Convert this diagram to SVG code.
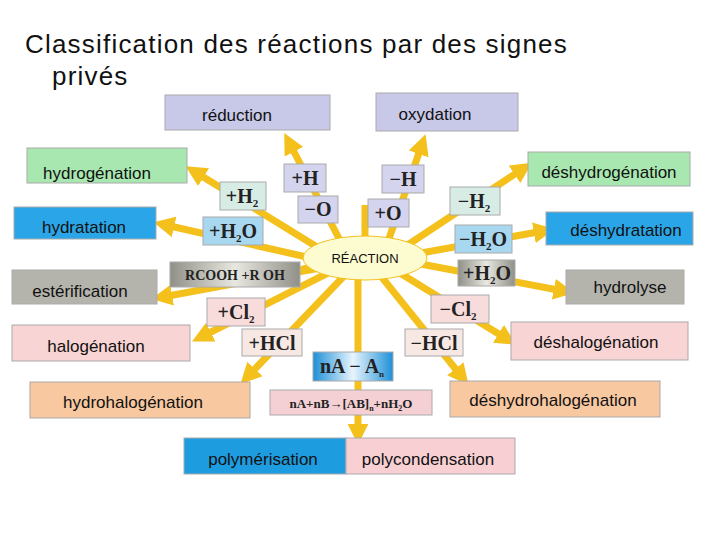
<svg xmlns="http://www.w3.org/2000/svg" width="720" height="540" viewBox="0 0 720 540">
<defs>
<marker id="ah" viewBox="0 0 10 10" refX="2" refY="5" markerWidth="3" markerHeight="3" orient="auto"><path d="M0,0 L10,5 L0,10 z" fill="#f4c01c"/></marker>
<linearGradient id="gr" x1="0" x2="1"><stop offset="0" stop-color="#909088"/><stop offset="0.5" stop-color="#e8e8e0"/><stop offset="1" stop-color="#909088"/></linearGradient>
<linearGradient id="bl" x1="0" x2="1"><stop offset="0" stop-color="#1e90d8"/><stop offset="0.5" stop-color="#e8f4fc"/><stop offset="1" stop-color="#1e90d8"/></linearGradient>
<style>
.t{font-family:"Liberation Sans",Arial,sans-serif;font-size:17px;fill:#111;text-anchor:middle}
.f{font-family:"Liberation Serif","Times New Roman",serif;font-weight:bold;font-size:20px;fill:#222;text-anchor:middle}
.b{stroke:#aaa;stroke-width:1}
.c{stroke:#f4c01c;stroke-width:7;fill:none;marker-end:url(#ah)}
.r{stroke:#f4c01c;stroke-width:7;fill:none}
</style>
</defs>
<rect width="720" height="540" fill="#fff"/>
<text x="25" y="53" font-family="Liberation Sans,Arial,sans-serif" font-size="26" letter-spacing="1.2" fill="#111">Classification des réactions par des signes</text>
<text x="52" y="85" font-family="Liberation Sans,Arial,sans-serif" font-size="26" letter-spacing="1.2" fill="#111">privés</text>
<g id="connectors">
<path class="c" d="M345,250 L292,148"/>
<path class="c" d="M385,250 L420,150"/>
<path class="c" d="M330,255 L200,175"/>
<path class="c" d="M320,260 L170,226"/>
<path class="c" d="M320,268 L168,296"/>
<path class="c" d="M330,272 L207,334"/>
<path class="c" d="M345,275 L252,372"/>
<path class="c" d="M358,278 L358,428"/>
<path class="c" d="M380,275 L458,372"/>
<path class="c" d="M395,270 L502,336"/>
<path class="c" d="M410,262 L558,290"/>
<path class="c" d="M410,255 L538,232"/>
<path class="c" d="M400,250 L518,172"/>
<path class="r" d="M365,240 L365,205"/>
<path class="r" d="M330,262 L300,270"/>
</g>
<g id="reduction"><rect class="b" x="165" y="95" width="165" height="35" fill="#c8c8e8"/><text class="t" x="237" y="121">réduction</text></g>
<g id="oxydation"><rect class="b" x="376" y="93" width="142" height="38" fill="#c8c8e8"/><text class="t" x="435" y="120">oxydation</text></g>
<g id="hydrogenation"><rect class="b" x="27" y="148" width="160" height="35" fill="#a8e8b0"/><text class="t" x="97" y="179">hydrogénation</text></g>
<g id="deshydrogenation"><rect class="b" x="528" y="152" width="162" height="34" fill="#a8e8b0"/><text class="t" x="609" y="178">déshydrogénation</text></g>
<g id="hydratation"><rect class="b" x="14" y="207" width="142" height="32" fill="#2aa6e8"/><text class="t" x="84" y="233">hydratation</text></g>
<g id="deshydratation"><rect class="b" x="546" y="212" width="147" height="33" fill="#2aa6e8"/><text class="t" x="626" y="236">déshydratation</text></g>
<g id="esterification"><rect class="b" x="12" y="270" width="145" height="34" fill="#b4b4ac"/><text class="t" x="80" y="297">estérification</text></g>
<g id="hydrolyse"><rect class="b" x="566" y="270" width="118" height="34" fill="#b4b4ac"/><text class="t" x="630" y="293">hydrolyse</text></g>
<g id="halogenation"><rect class="b" x="12" y="325" width="178" height="36" fill="#f8d4d4"/><text class="t" x="96" y="352">halogénation</text></g>
<g id="deshalogenation"><rect class="b" x="511" y="322" width="177" height="38" fill="#f8d4d4"/><text class="t" x="596" y="348">déshalogénation</text></g>
<g id="hydrohalogenation"><rect class="b" x="30" y="382" width="220" height="36" fill="#f8c8a0"/><text class="t" x="133" y="408">hydrohalogénation</text></g>
<g id="deshydrohalogenation"><rect class="b" x="450" y="381" width="210" height="36" fill="#f8c8a0"/><text class="t" x="553" y="406">déshydrohalogénation</text></g>
<g id="polymerisation"><rect class="b" x="184" y="438" width="162" height="36" fill="#1e9ce0"/><text class="t" x="263" y="465">polymérisation</text></g>
<g id="polycondensation"><rect class="b" x="346" y="438" width="169" height="36" fill="#f8d0d4"/><text class="t" x="428" y="465">polycondensation</text></g>
<g id="reaction"><ellipse cx="365" cy="258" rx="62" ry="22" fill="#fdfbd0" stroke="#f4c01c" stroke-width="1"/><text class="t" x="365" y="263" style="font-size:13px">RÉACTION</text></g>
<g id="labels">
<rect class="b" x="284" y="164" width="42" height="28" fill="#d4d4ee"/><text class="f" x="305" y="185">+H</text>
<rect class="b" x="298" y="196" width="40" height="27" fill="#d4d4ee"/><text class="f" x="318" y="216">−O</text>
<rect class="b" x="382" y="165" width="42" height="28" fill="#d4d4ee"/><text class="f" x="403" y="186">−H</text>
<rect class="b" x="368" y="199" width="41" height="28" fill="#d4d4ee"/><text class="f" x="388" y="220">+O</text>
<rect class="b" x="220" y="182" width="46" height="28" fill="#d8ece6"/><text class="f" x="242" y="203">+H<tspan font-size="11" dy="4">2</tspan></text>
<rect class="b" x="203" y="217" width="60" height="28" fill="#a8d8f0"/><text class="f" x="233" y="238">+H<tspan font-size="11" dy="4">2</tspan><tspan dy="-4">O</tspan></text>
<rect class="b" x="170" y="262" width="130" height="25" fill="url(#gr)"/><text class="f" x="235" y="280" style="font-size:14px">RCOOH +R OH</text>
<rect class="b" x="207" y="298" width="58" height="28" fill="#f8dcdc"/><text class="f" x="236" y="319">+Cl<tspan font-size="11" dy="4">2</tspan></text>
<rect class="b" x="242" y="329" width="60" height="27" fill="#f8e8e4"/><text class="f" x="272" y="350">+HCl</text>
<rect class="b" x="313" y="352" width="80" height="29" fill="url(#bl)"/><text class="f" x="352" y="373">nA − A<tspan font-size="9" dy="4">n</tspan></text>
<rect class="b" x="270" y="390" width="162" height="25" fill="#f4d0d4"/><text class="f" x="351" y="408" style="font-size:13px">nA+nB→[AB]<tspan font-size="8" dy="3">n</tspan><tspan dy="-3">+nH</tspan><tspan font-size="8" dy="3">2</tspan><tspan dy="-3">O</tspan></text>
<rect class="b" x="450" y="187" width="50" height="28" fill="#d8ece6"/><text class="f" x="474" y="208">−H<tspan font-size="11" dy="4">2</tspan></text>
<rect class="b" x="455" y="225" width="57" height="28" fill="#a8d8f0"/><text class="f" x="483" y="246">−H<tspan font-size="11" dy="4">2</tspan><tspan dy="-4">O</tspan></text>
<rect class="b" x="458" y="260" width="57" height="26" fill="url(#gr)"/><text class="f" x="487" y="280">+H<tspan font-size="11" dy="4">2</tspan><tspan dy="-4">O</tspan></text>
<rect class="b" x="431" y="295" width="58" height="28" fill="#f8dcdc"/><text class="f" x="458" y="316">−Cl<tspan font-size="11" dy="4">2</tspan></text>
<rect class="b" x="405" y="329" width="58" height="27" fill="#f8e8e4"/><text class="f" x="434" y="350">−HCl</text>
</g>
</svg>
